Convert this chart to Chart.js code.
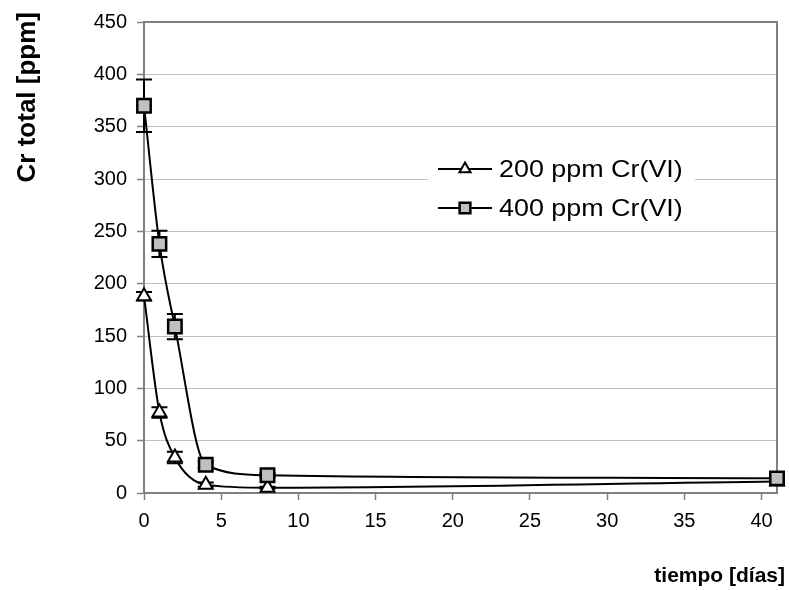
<!DOCTYPE html>
<html>
<head>
<meta charset="utf-8">
<script src="https://cdn.jsdelivr.net/npm/chart.js@4.4.1/dist/chart.umd.min.js"></script>
<style>
  html, body { margin: 0; padding: 0; background: #fff; }
  #wrap { width: 789px; height: 590px; }
</style>
</head>
<body>
<div id="wrap"><canvas id="graphique"></canvas></div>
<script>
// valores
const dias = [0, 1, 2, 4, 8, 41];
const cr200 = [188, 77, 34, 8, 5, 11];
const err200 = [4, 5, 5.5, 2, 1, 1];
const cr400 = [370, 238, 159, 27, 17, 14];
const err400 = [25, 12.5, 12, 3, 2, 2];
const etiquetas = ['200 ppm Cr(VI)', '400 ppm Cr(VI)'];
const yTicks = [0, 50, 100, 150, 200, 250, 300, 350, 400, 450];
const xTicks = [0, 5, 10, 15, 20, 25, 30, 35, 40];

const FONT = '"Liberation Sans", Arial, sans-serif';
const GRIS = '#808080';

function puntos(ys) {
   return dias.map((d, i) => ({ x: d, y: ys[i] }));
}

// barras de error (debajo de los marcadores)
const errorBars = {
   id: 'errorBars',
   beforeDatasetsDraw(chart) {
      const c = chart.ctx;
      const xs = chart.scales.x, ys = chart.scales.y;
      const errs = [err200, err400];
      c.save();
      c.strokeStyle = '#000';
      c.lineWidth = 2;
      chart.data.datasets.forEach((ds, k) => {
         ds.data.forEach((p, i) => {
            const e = errs[k][i];
            const px = xs.getPixelForValue(p.x);
            const top = ys.getPixelForValue(p.y + e);
            const bot = ys.getPixelForValue(p.y - e);
            c.beginPath();
            c.moveTo(px, top); c.lineTo(px, bot);
            c.moveTo(px - 8, top); c.lineTo(px + 8, top);
            c.moveTo(px - 8, bot); c.lineTo(px + 8, bot);
            c.stroke();
         });
      });
      c.restore();
   }
};

// marco, leyenda y títulos de los ejes
const extras = {
   id: 'extras',
   beforeDatasetsDraw(chart) {
      const c = chart.ctx, a = chart.chartArea;
      c.save();
      c.strokeStyle = GRIS;
      c.lineWidth = 2;
      c.beginPath();
      c.moveTo(a.left, a.top); c.lineTo(a.right, a.top); c.lineTo(a.right, a.bottom);
      c.stroke();
      // caja de la leyenda
      c.fillStyle = '#fff';
      c.fillRect(428, 150, 267, 77);
      c.restore();
   },
   afterDraw(chart) {
      const c = chart.ctx;
      c.save();
      chart.data.datasets.forEach((ds, k) => {
         const y = 169 + k * 39;
         c.strokeStyle = '#000';
         c.lineWidth = 2;
         c.beginPath();
         c.moveTo(438, y); c.lineTo(492, y);
         c.stroke();
         c.fillStyle = ds.pointBackgroundColor;
         c.lineWidth = ds.pointBorderWidth;
         Chart.helpers.drawPoint(c, {
            pointStyle: ds.pointStyle, radius: ds.pointRadius * 0.8, borderWidth: ds.pointBorderWidth
         }, 465, y);
         // el texto de la leyenda es un poco más ancho que alto
         c.save();
         c.translate(499, y + 1);
         c.scale(1.12, 1);
         c.fillStyle = '#000';
         c.font = '24px ' + FONT;
         c.textAlign = 'left';
         c.textBaseline = 'middle';
         c.fillText(ds.label, 0, 0);
         c.restore();
      });

      c.font = 'bold 21px ' + FONT;
      c.fillStyle = '#000';
      c.textAlign = 'right';
      c.textBaseline = 'middle';
      c.fillText('tiempo [días]', 785, 576);

      c.translate(28, 12);
      c.rotate(-Math.PI / 2);
      c.font = 'bold 26px ' + FONT;
      c.textAlign = 'right';
      c.fillText('Cr total [ppm]', 0, 0);
      c.restore();
   }
};

const ctx = document.getElementById('graphique');

const myChart = new Chart(ctx, {
   type: 'line',
   data: {
      datasets: [{
         label: etiquetas[0],
         data: puntos(cr200),
         order: 1,
         borderColor: '#000',
         borderWidth: 2,
         pointStyle: 'triangle',
         pointRadius: 8,
         pointBorderWidth: 2,
         pointBackgroundColor: '#fff',
         pointBorderColor: '#000',
         cubicInterpolationMode: 'monotone',
         clip: false
      }, {
         label: etiquetas[1],
         data: puntos(cr400),
         order: 0,
         borderColor: '#000',
         borderWidth: 2,
         pointStyle: 'rect',
         pointRadius: 9.5,
         pointBorderWidth: 2.5,
         pointBackgroundColor: '#c0c0c0',
         pointBorderColor: '#000',
         cubicInterpolationMode: 'monotone',
         clip: false
      }]
   },
   options: {
      responsive: true,
      maintainAspectRatio: false,
      animation: false,
      layout: { padding: { top: 22, right: 10, left: 0, bottom: 0 } },
      scales: {
         x: {
            type: 'linear',
            min: 0,
            max: 41,
            afterBuildTicks: (s) => { s.ticks = xTicks.map(v => ({ value: v })); },
            afterFit: (s) => { s.height = 97; },
            ticks: {
               color: '#000',
               font: { family: FONT, size: 20 },
               padding: 9,
               maxRotation: 0
            },
            grid: {
               drawOnChartArea: false,
               tickLength: 7,
               tickColor: GRIS,
               tickWidth: 1.5
            },
            border: { color: GRIS, width: 2 }
         },
         y: {
            min: 0,
            max: 450,
            afterBuildTicks: (s) => { s.ticks = yTicks.map(v => ({ value: v })); },
            afterFit: (s) => { s.width = 144; },
            ticks: {
               color: '#000',
               font: { family: FONT, size: 20 },
               padding: 10
            },
            grid: {
               color: '#c0c0c0',
               lineWidth: 1,
               tickLength: 7,
               tickColor: GRIS,
               tickWidth: 1.5
            },
            border: { color: GRIS, width: 2 }
         }
      },
      plugins: {
         legend: { display: false },
         tooltip: { enabled: false }
      }
   },
   plugins: [errorBars, extras]
});
</script>
</body>
</html>
